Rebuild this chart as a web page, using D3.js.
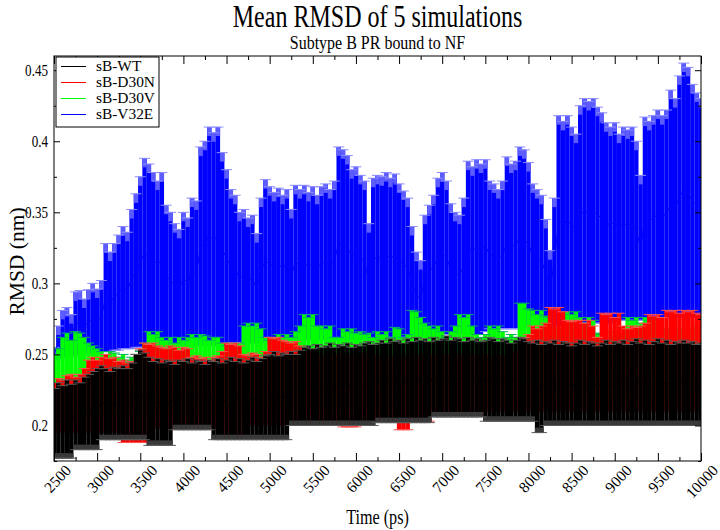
<!DOCTYPE html>
<html><head><meta charset="utf-8">
<script src="https://cdn.jsdelivr.net/npm/d3@7"></script>
<style>body{margin:0;background:#fff} svg{display:block}</style>
</head><body>
<svg id="c" width="720" height="530"></svg>
<script>
const times = d3.range(2500, 10001, 50);

const blueMean = [.250,.258,.264,.2655,.263,.2715,.2725,.2695,.273,.275,
.273,.277,.290,.287,.2905,.2935,.297,.295,.303,.309,
.315,.3215,.3195,.3165,.3135,.3165,.305,.3025,.2985,.2965,
.303,.301,.308,.307,.326,.328,.333,.331,.333,.324,
.318,.312,.310,.304,.305,.302,.303,.2965,.309,.3155,
.314,.312,.3135,.311,.313,.306,.3145,.313,.3145,.312,
.314,.311,.314,.315,.313,.316,.328,.327,.325,.320,
.321,.318,.316,.301,.317,.318,.3185,.320,.318,.3195,
.316,.3135,.311,.301,.292,.289,.305,.3085,.312,.318,
.321,.318,.310,.307,.306,.312,.325,.323,.3255,.324,
.3265,.320,.319,.317,.320,.3285,.326,.327,.332,.331,
.3275,.320,.318,.316,.3075,.2965,.315,.344,.342,.344,
.341,.3385,.3485,.351,.350,.351,.348,.346,.3425,.341,
.3435,.3395,.342,.341,.342,.337,.325,.3455,.344,.346,
.349,.347,.349,.356,.353,.361,.3655,.364,.358,.355,
.353];
const blueErr = [.005,.012,.017,.0175,.015,.0225,.0225,.0195,.0225,.025,
.023,.025,.038,.035,.0375,.0405,.043,.041,.049,.054,
.060,.0665,.0645,.0615,.0585,.0615,.050,.0475,.0435,.0415,
.047,.045,.052,.051,.070,.072,.077,.075,.077,.068,
.062,.054,.052,.046,.047,.044,.045,.0385,.051,.0575,
.054,.052,.0535,.051,.053,.046,.0545,.053,.0545,.052,
.054,.051,.054,.055,.053,.056,.068,.067,.065,.060,
.061,.058,.056,.041,.057,.058,.0565,.058,.056,.0575,
.054,.0515,.049,.039,.030,.027,.043,.0465,.050,.056,
.057,.054,.046,.043,.042,.048,.061,.059,.0615,.060,
.0605,.052,.051,.049,.052,.0605,.058,.059,.064,.063,
.0575,.050,.048,.046,.0375,.0265,.045,.074,.072,.074,
.069,.0665,.0765,.079,.078,.079,.076,.074,.0705,.069,
.0695,.0655,.068,.067,.068,.063,.051,.0715,.070,.072,
.073,.071,.073,.080,.077,.085,.0895,.088,.082,.079,
.077];

const greenMean = [.229,.231,.235,.2365,.234,.237,.2365,.235,.233,.232,
.231,.230,.229,.230,.2295,.228,.229,.227,.228,.229,
.230,.233,.237,.236,.237,.235,.234,.235,.233,.235,
.234,.235,.236,.235,.236,.2355,.234,.235,.235,.233,
.234,.235,.2335,.235,.241,.242,.241,.242,.240,.237,
.236,.237,.238,.237,.238,.237,.239,.241,.245,.244,
.245,.241,.241,.240,.241,.237,.237,.240,.239,.240,
.2385,.239,.238,.2385,.237,.239,.238,.239,.237,.2405,
.240,.237,.238,.2465,.246,.244,.242,.241,.240,.241,
.239,.237,.239,.241,.245,.244,.245,.241,.238,.237,
.238,.2425,.2415,.2425,.2405,.2385,.2395,.2385,.2505,.2505,
.2485,.248,.2465,.248,.246,.2455,.2425,.2415,.2425,.2475,
.2465,.2475,.2455,.2435,.2455,.2445,.240,.2395,.2405,.2385,
.2405,.2395,.240,.2455,.2445,.2455,.2435,.2455,.2445,.2455,
.2415,.2405,.2415,.2405,.2415,.2405,.2415,.2405,.2415,.2425,
.2415];
const greenErr = [.021,.023,.027,.0285,.026,.029,.0285,.027,.025,.024,
.023,.022,.021,.022,.0215,.020,.021,.019,.020,.021,
.022,.025,.029,.028,.029,.027,.026,.027,.025,.027,
.026,.027,.028,.027,.028,.0275,.026,.027,.027,.025,
.022,.023,.0215,.023,.029,.030,.029,.030,.028,.025,
.024,.025,.026,.025,.026,.025,.027,.029,.033,.032,
.033,.029,.029,.028,.029,.025,.025,.028,.027,.028,
.0265,.027,.026,.0265,.025,.027,.026,.027,.025,.0285,
.028,.025,.026,.0345,.034,.032,.030,.029,.028,.029,
.027,.025,.027,.029,.033,.032,.033,.029,.026,.025,
.026,.0275,.0265,.0275,.0255,.0235,.0245,.0235,.0355,.0355,
.0335,.033,.0315,.033,.031,.0305,.0275,.0265,.0275,.0325,
.0315,.0325,.0305,.0285,.0305,.0295,.025,.0245,.0255,.0235,
.0255,.0245,.025,.0305,.0295,.0305,.0285,.0305,.0295,.0305,
.0265,.0255,.0265,.0255,.0265,.0255,.0265,.0255,.0265,.0275,
.0265];

const redMean = [.2125,.214,.2135,.215,.2155,.2145,.2155,.2175,.2205,.2215,
.2205,.2215,.2225,.221,.2215,.220,.217,.216,.2165,.219,
.221,.223,.2225,.228,.227,.2265,.226,.227,.2265,.2255,
.2265,.226,.223,.2235,.2225,.223,.222,.223,.2235,.225,
.2245,.224,.2245,.2235,.225,.2245,.2255,.225,.224,.226,
.231,.2305,.231,.230,.2295,.229,.2295,.228,.225,.226,
.2245,.2255,.224,.225,.226,.2245,.225,.225,.224,.2245,
.2255,.226,.227,.2255,.2265,.226,.2255,.2265,.225,.226,
.2235,.2225,.223,.2265,.2255,.226,.2265,.2255,.230,.229,
.2295,.230,.2285,.229,.230,.2295,.229,.230,.2295,.229,
.230,.2295,.229,.230,.2295,.229,.230,.231,.234,.236,
.237,.240,.239,.240,.241,.2465,.246,.2465,.245,.242,
.2415,.242,.242,.241,.242,.240,.236,.2445,.244,.2445,
.243,.2445,.240,.239,.240,.2395,.240,.241,.244,.2435,
.244,.243,.2455,.245,.2455,.2445,.2455,.245,.2455,.2445,
.244];
const redErr = [.0175,.019,.0185,.020,.0205,.0195,.0205,.0225,.0255,.0265,
.0255,.0265,.0275,.026,.0265,.025,.029,.028,.0285,.031,
.033,.035,.0345,.030,.029,.0285,.028,.029,.0285,.0275,
.0285,.028,.025,.0255,.0245,.025,.024,.025,.0255,.027,
.0335,.033,.0335,.0325,.025,.0245,.0255,.025,.024,.026,
.031,.0305,.031,.030,.0295,.029,.0295,.028,.025,.026,
.0245,.0255,.024,.025,.026,.0245,.025,.026,.025,.0255,
.0265,.023,.024,.0225,.0235,.023,.0225,.0235,.022,.023,
.0265,.0255,.026,.0235,.0225,.023,.0235,.0225,.020,.019,
.0195,.020,.0185,.019,.020,.0195,.019,.020,.0195,.019,
.020,.0195,.019,.020,.0195,.019,.020,.021,.024,.026,
.027,.030,.029,.030,.031,.0365,.036,.0365,.035,.032,
.0315,.032,.032,.031,.032,.030,.026,.0345,.034,.0345,
.033,.0345,.030,.029,.030,.0295,.030,.031,.034,.0335,
.034,.033,.0355,.035,.0355,.0345,.0355,.035,.0355,.0345,
.034];

const blackMean = [.2015,.2035,.2025,.2045,.203,.2075,.2065,.2085,.2095,.2105,
.2115,.216,.215,.214,.2155,.215,.216,.215,.217,.220,
.2215,.2205,.217,.2155,.2165,.215,.216,.2155,.220,.2215,
.221,.222,.2205,.2215,.221,.220,.2215,.2175,.2185,.217,
.218,.219,.2175,.2185,.217,.218,.219,.2175,.2185,.2195,
.220,.221,.2195,.2205,.220,.226,.225,.2265,.2275,.228,
.227,.2285,.2275,.228,.229,.2275,.2285,.228,.229,.2275,
.2285,.228,.229,.2295,.2285,.230,.231,.230,.2315,.2305,
.231,.230,.2315,.2305,.232,.231,.2315,.2305,.234,.233,
.2335,.2345,.233,.234,.2335,.2325,.234,.233,.2335,.2325,
.2315,.2325,.232,.231,.232,.2315,.2305,.2315,.2325,.232,
.231,.2305,.2275,.226,.2295,.229,.230,.2285,.2295,.229,
.228,.229,.230,.2285,.2295,.229,.228,.229,.230,.2285,
.2295,.229,.230,.2285,.2295,.2305,.229,.230,.2285,.2295,
.2305,.229,.230,.2285,.2295,.229,.230,.229,.2295,.2285,
.229];
const blackErr = [.0245,.0265,.0255,.0275,.026,.0245,.0235,.0255,.0265,.0275,
.0285,.026,.025,.024,.0255,.025,.026,.025,.027,.030,
.0315,.0305,.031,.0295,.0305,.029,.030,.0295,.023,.0245,
.024,.025,.0235,.0245,.024,.023,.0245,.0275,.0285,.027,
.028,.029,.0275,.0285,.027,.028,.029,.0275,.0285,.0295,
.030,.031,.0295,.0305,.030,.026,.025,.0265,.0275,.028,
.027,.0285,.0275,.028,.029,.0275,.0285,.028,.029,.0275,
.0285,.028,.029,.0295,.0285,.028,.029,.028,.0295,.0285,
.029,.028,.0295,.0285,.030,.029,.0295,.0285,.028,.027,
.0275,.0285,.027,.028,.0275,.0265,.028,.027,.0275,.0265,
.0285,.0295,.029,.028,.029,.0285,.0275,.0285,.0295,.029,
.028,.0275,.0325,.031,.0295,.029,.030,.0285,.0295,.029,
.028,.029,.030,.0285,.0295,.029,.028,.029,.030,.0285,
.0295,.029,.030,.0285,.0295,.0305,.029,.030,.0285,.0295,
.0305,.029,.030,.0285,.0295,.029,.030,.029,.0295,.0285,
.029];

const seriesNames  = ["sB-WT", "sB-D30N", "sB-D30V", "sB-V32E"];
const seriesColors = ["#000000", "#ff0000", "#00ff00", "#0000ff"];
const xTickValues = d3.range(2500, 10001, 500);
const xTickLabels = xTickValues.map(String);
const yTickValues = [0.2, 0.25, 0.3, 0.35, 0.4, 0.45];
const yTickLabels = ["0.2", "0.25", "0.3", "0.35", "0.4", "0.45"];
const titleText = "Mean RMSD of 5 simulations";
const subtitleText = "Subtype B PR bound to NF";
const xLabel = "Time (ps)";
const yLabel = "RMSD (nm)";

// ---- layout ----
const L = 54, R = 701, T = 56, B = 461, SX = 0.77;
const FONT = "'Liberation Serif','DejaVu Serif',serif";
const svg = d3.select("#c");
const x = d3.scaleLinear().domain([2500, 10000]).range([L, R]);
const y = d3.scaleLinear().domain([0.175, 0.46]).range([B, T]);

svg.append("defs").append("clipPath").attr("id", "clip")
  .append("rect").attr("x", L).attr("y", T).attr("width", R - L).attr("height", B - T);

const plot = svg.append("g").attr("clip-path", "url(#clip)");

// styling per series: cap colour and light fringe (top for blue, bottom for black)
const series = [
  {mean: blackMean, err: blackErr, color: seriesColors[0], cap: "#5a5a5a", fringeBottom: 5, fringeColor: "#3a3a3a"},
  {mean: redMean,   err: redErr,   color: seriesColors[1], cap: "#ff5050"},
  {mean: greenMean, err: greenErr, color: seriesColors[2], cap: "#00b060"},
  {mean: blueMean,  err: blueErr,  color: seriesColors[3], cap: "#8c8cff", fringeTop: 9, fringeColor: "#5c5cff"}
];
const drawOrder = [3, 2, 1, 0];
const idx = d3.range(times.length);
const capHalf = 5.5, barW = 4.4;

drawOrder.forEach(si => {
  const s = series[si];
  const g = plot.append("g");
  const top = i => y(s.mean[i] + s.err[i]);
  const bot = i => y(s.mean[i] - s.err[i]);
  g.selectAll("line.bar").data(idx).join("line").attr("class", "bar")
    .attr("x1", i => x(times[i])).attr("x2", i => x(times[i]))
    .attr("y1", bot).attr("y2", top)
    .attr("stroke", s.color).attr("stroke-width", barW);
  if (s.fringeTop) {
    g.selectAll("line.ft").data(idx).join("line").attr("class", "ft")
      .attr("x1", i => x(times[i])).attr("x2", i => x(times[i]))
      .attr("y1", top).attr("y2", i => Math.min(bot(i), top(i) + s.fringeTop))
      .attr("stroke", s.fringeColor).attr("stroke-width", barW);
  }
  if (s.fringeBottom) {
    g.selectAll("line.fb").data(idx).join("line").attr("class", "fb")
      .attr("x1", i => x(times[i])).attr("x2", i => x(times[i]))
      .attr("y1", bot).attr("y2", i => Math.max(top(i), bot(i) - s.fringeBottom))
      .attr("stroke", s.fringeColor).attr("stroke-width", barW);
  }
  [1, -1].forEach(sign => {
    g.selectAll("line.cap" + (sign > 0 ? "u" : "d")).data(idx).join("line")
      .attr("class", "cap" + (sign > 0 ? "u" : "d"))
      .attr("x1", i => x(times[i]) - capHalf).attr("x2", i => x(times[i]) + capHalf)
      .attr("y1", i => y(s.mean[i] + sign * s.err[i]))
      .attr("y2", i => y(s.mean[i] + sign * s.err[i]))
      .attr("stroke", s.cap).attr("stroke-width", 1);
  });
  g.append("path").datum(idx)
    .attr("d", d3.line().x(i => x(times[i])).y(i => y(s.mean[i])))
    .attr("fill", "none").attr("stroke", s.color).attr("stroke-width", 1);
});

// ---- axes (ticks inward on all sides) ----
const xMinor = d3.range(2750, 10000, 500);
const yMinor = [0.175, 0.225, 0.275, 0.325, 0.375, 0.425];
function axisG(axis, tx, ty) {
  const g = svg.append("g").attr("transform", `translate(${tx},${ty})`).call(axis);
  g.select(".domain").remove();
  g.selectAll("text").remove();
  g.selectAll("line").attr("stroke", "#000").attr("stroke-width", 1);
  return g;
}
axisG(d3.axisBottom(x).tickValues(xTickValues).tickSize(-8), 0, B);
axisG(d3.axisBottom(x).tickValues(xMinor).tickSize(-4), 0, B);
axisG(d3.axisTop(x).tickValues(xTickValues).tickSize(-8), 0, T);
axisG(d3.axisTop(x).tickValues(xMinor).tickSize(-4), 0, T);
axisG(d3.axisLeft(y).tickValues(yTickValues).tickSize(-6), L, 0);
axisG(d3.axisLeft(y).tickValues(yMinor).tickSize(-3), L, 0);
axisG(d3.axisRight(y).tickValues(yTickValues).tickSize(-6), R, 0);
axisG(d3.axisRight(y).tickValues(yMinor).tickSize(-3), R, 0);

svg.append("rect").attr("x", L).attr("y", T).attr("width", R - L).attr("height", B - T)
  .attr("fill", "none").attr("stroke", "#000").attr("stroke-width", 1);

// tick labels
svg.append("g").selectAll("text").data(yTickValues).join("text")
  .attr("transform", d => `translate(${L - 6},${y(d)}) scale(${SX},1)`)
  .attr("text-anchor", "end").attr("dy", "0.35em")
  .attr("font-family", FONT).attr("font-size", 17)
  .text((d, i) => yTickLabels[i]);

svg.append("g").selectAll("text").data(xTickValues).join("text")
  .attr("transform", d => `translate(${x(d) + 18},${B + 10}) rotate(-47)`)
  .attr("text-anchor", "end")
  .attr("font-family", FONT).attr("font-size", 15.5)
  .text((d, i) => xTickLabels[i]);

// title + subtitle
svg.append("text").attr("transform", `translate(${(L + R) / 2},26.5) scale(0.775,1)`)
  .attr("text-anchor", "middle").attr("font-family", FONT).attr("font-size", 31)
  .text(titleText);
svg.append("text").attr("transform", `translate(${(L + R) / 2},49) scale(0.82,1)`)
  .attr("text-anchor", "middle").attr("font-family", FONT).attr("font-size", 19.5)
  .text(subtitleText);

svg.append("text").attr("transform", `translate(${(L + R) / 2},524) scale(${SX},1)`)
  .attr("text-anchor", "middle").attr("font-family", FONT).attr("font-size", 21)
  .text(xLabel);
svg.append("text").attr("transform", `translate(24,${(T + B) / 2 + 3}) rotate(-90)`)
  .attr("text-anchor", "middle").attr("font-family", FONT).attr("font-size", 21.5)
  .text(yLabel);

// legend
const leg = svg.append("g");
leg.append("rect").attr("x", 56).attr("y", 57).attr("width", 103).attr("height", 70)
  .attr("fill", "#fff").attr("stroke", "#000").attr("stroke-width", 1);
seriesNames.forEach((n, i) => {
  const ly = 66.5 + i * 16;
  leg.append("line").attr("x1", 61).attr("x2", 86).attr("y1", ly).attr("y2", ly)
    .attr("stroke", seriesColors[i]).attr("stroke-width", 1);
  leg.append("text").attr("transform", `translate(96,${ly}) scale(1.1,1)`)
    .attr("dy", "0.35em").attr("font-family", FONT).attr("font-size", 14).text(n);
});
</script>
</body></html>
